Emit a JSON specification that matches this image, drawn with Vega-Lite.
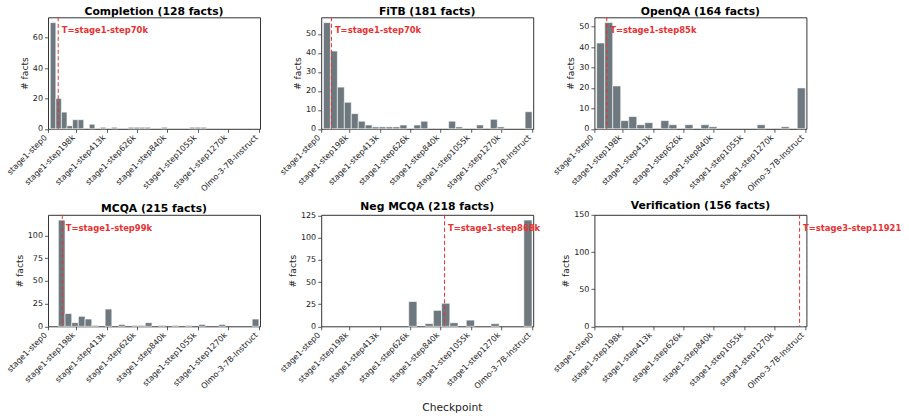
{
  "$schema": "https://vega.github.io/schema/vega-lite/v6.json",
  "padding": {"left": 5, "top": 4.3, "right": 5, "bottom": 5},
  "background": "white",
  "datasets": {
    "bars": [
      {"task": "Completion", "x0": 14, "x1": 53.3, "n": 70},
      {"task": "Completion", "x0": 53.3, "x1": 92.6, "n": 20},
      {"task": "Completion", "x0": 92.6, "x1": 131.9, "n": 11},
      {"task": "Completion", "x0": 131.9, "x1": 171.2, "n": 2},
      {"task": "Completion", "x0": 171.2, "x1": 210.5, "n": 6},
      {"task": "Completion", "x0": 210.5, "x1": 249.8, "n": 6},
      {"task": "Completion", "x0": 289.1, "x1": 328.4, "n": 3},
      {"task": "Completion", "x0": 367.7, "x1": 407.0, "n": 1},
      {"task": "Completion", "x0": 446.3, "x1": 485.6, "n": 1},
      {"task": "Completion", "x0": 564.2, "x1": 603.5, "n": 1},
      {"task": "Completion", "x0": 603.5, "x1": 642.8, "n": 1},
      {"task": "Completion", "x0": 642.8, "x1": 682.1, "n": 1},
      {"task": "Completion", "x0": 682.1, "x1": 721.4, "n": 1},
      {"task": "Completion", "x0": 800.0, "x1": 839.3, "n": 1},
      {"task": "Completion", "x0": 996.5, "x1": 1035.8, "n": 1},
      {"task": "Completion", "x0": 1035.8, "x1": 1075.1, "n": 1},
      {"task": "Completion", "x0": 1075.1, "x1": 1114.4, "n": 1},

      {"task": "FiTB", "x0": 14, "x1": 63.03, "n": 56},
      {"task": "FiTB", "x0": 63.03, "x1": 112.07, "n": 41},
      {"task": "FiTB", "x0": 112.07, "x1": 161.1, "n": 22},
      {"task": "FiTB", "x0": 161.1, "x1": 210.13, "n": 14},
      {"task": "FiTB", "x0": 210.13, "x1": 259.17, "n": 8},
      {"task": "FiTB", "x0": 259.17, "x1": 308.2, "n": 4},
      {"task": "FiTB", "x0": 308.2, "x1": 357.23, "n": 2},
      {"task": "FiTB", "x0": 357.23, "x1": 406.27, "n": 1},
      {"task": "FiTB", "x0": 406.27, "x1": 455.3, "n": 1},
      {"task": "FiTB", "x0": 455.3, "x1": 504.33, "n": 1},
      {"task": "FiTB", "x0": 504.33, "x1": 553.37, "n": 1},
      {"task": "FiTB", "x0": 553.37, "x1": 602.4, "n": 2},
      {"task": "FiTB", "x0": 651.43, "x1": 700.47, "n": 2},
      {"task": "FiTB", "x0": 700.47, "x1": 749.5, "n": 4},
      {"task": "FiTB", "x0": 896.6, "x1": 945.63, "n": 4},
      {"task": "FiTB", "x0": 945.63, "x1": 994.67, "n": 1},
      {"task": "FiTB", "x0": 1092.73, "x1": 1141.77, "n": 2},
      {"task": "FiTB", "x0": 1190.8, "x1": 1239.83, "n": 5},
      {"task": "FiTB", "x0": 1239.83, "x1": 1288.87, "n": 1},
      {"task": "FiTB", "x0": 1435.97, "x1": 1485, "n": 9},

      {"task": "OpenQA", "x0": 14, "x1": 70.58, "n": 42},
      {"task": "OpenQA", "x0": 70.58, "x1": 127.15, "n": 52},
      {"task": "OpenQA", "x0": 127.15, "x1": 183.73, "n": 21},
      {"task": "OpenQA", "x0": 183.73, "x1": 240.31, "n": 4},
      {"task": "OpenQA", "x0": 240.31, "x1": 296.88, "n": 6},
      {"task": "OpenQA", "x0": 296.88, "x1": 353.46, "n": 2},
      {"task": "OpenQA", "x0": 353.46, "x1": 410.04, "n": 3},
      {"task": "OpenQA", "x0": 466.62, "x1": 523.19, "n": 4},
      {"task": "OpenQA", "x0": 523.19, "x1": 579.77, "n": 2},
      {"task": "OpenQA", "x0": 636.35, "x1": 692.92, "n": 2},
      {"task": "OpenQA", "x0": 749.5, "x1": 806.08, "n": 2},
      {"task": "OpenQA", "x0": 806.08, "x1": 862.65, "n": 1},
      {"task": "OpenQA", "x0": 1145.54, "x1": 1202.12, "n": 2},
      {"task": "OpenQA", "x0": 1315.27, "x1": 1371.85, "n": 1},
      {"task": "OpenQA", "x0": 1428.42, "x1": 1485, "n": 20},

      {"task": "MCQA", "x0": 71, "x1": 118.13, "n": 117},
      {"task": "MCQA", "x0": 118.13, "x1": 165.27, "n": 14},
      {"task": "MCQA", "x0": 165.27, "x1": 212.4, "n": 4},
      {"task": "MCQA", "x0": 212.4, "x1": 259.53, "n": 11},
      {"task": "MCQA", "x0": 259.53, "x1": 306.67, "n": 8},
      {"task": "MCQA", "x0": 306.67, "x1": 353.8, "n": 1},
      {"task": "MCQA", "x0": 400.93, "x1": 448.07, "n": 19},
      {"task": "MCQA", "x0": 495.2, "x1": 542.33, "n": 2},
      {"task": "MCQA", "x0": 589.47, "x1": 636.6, "n": 1},
      {"task": "MCQA", "x0": 636.6, "x1": 683.73, "n": 1},
      {"task": "MCQA", "x0": 683.73, "x1": 730.87, "n": 4},
      {"task": "MCQA", "x0": 777.99, "x1": 825.13, "n": 1},
      {"task": "MCQA", "x0": 872.27, "x1": 919.4, "n": 1},
      {"task": "MCQA", "x0": 966.53, "x1": 1013.67, "n": 1},
      {"task": "MCQA", "x0": 1060.8, "x1": 1107.93, "n": 2},
      {"task": "MCQA", "x0": 1202.2, "x1": 1249.33, "n": 2},
      {"task": "MCQA", "x0": 1437.87, "x1": 1485, "n": 8},

      {"task": "Neg MCQA", "x0": 615, "x1": 673, "n": 28},
      {"task": "Neg MCQA", "x0": 731, "x1": 789, "n": 3},
      {"task": "Neg MCQA", "x0": 789, "x1": 847, "n": 18},
      {"task": "Neg MCQA", "x0": 847, "x1": 905, "n": 26},
      {"task": "Neg MCQA", "x0": 905, "x1": 963, "n": 4},
      {"task": "Neg MCQA", "x0": 1021, "x1": 1079, "n": 7},
      {"task": "Neg MCQA", "x0": 1195, "x1": 1253, "n": 3},
      {"task": "Neg MCQA", "x0": 1427, "x1": 1485, "n": 120},

      {"task": "Verification", "x0": 1464.6, "x1": 1465.4, "n": 143}
    ],
    "thr": [
      {"task": "Completion", "t": 70, "label": "T=stage1-step70k"},
      {"task": "FiTB", "t": 70, "label": "T=stage1-step70k"},
      {"task": "OpenQA", "t": 85, "label": "T=stage1-step85k"},
      {"task": "MCQA", "t": 99, "label": "T=stage1-step99k"},
      {"task": "Neg MCQA", "t": 868, "label": "T=stage1-step868k"},
      {"task": "Verification", "t": 1445, "label": "T=stage3-step11921"}
    ]
  },
  "columns": 3,
  "bounds": "flush",
  "spacing": {"row": 85.5, "column": 61.2},
  "concat": [
    {
      "width": 212, "height": 111.5,
      "title": {"text": "Completion (128 facts)"},
      "layer": [
        {"data": {"name": "bars"}, "transform": [{"filter": "datum.task == 'Completion'"}],
         "mark": {"type": "bar", "color": "#6e787f", "stroke": "white", "strokeWidth": 0.6},
         "encoding": {
           "x": {"field": "x0", "type": "quantitative", "scale": {"domain": [-2, 1493], "nice": false, "zero": false},
                 "axis": {"values": [0, 198, 413, 626, 840, 1055, 1270, 1485], "tickCount": 20, "labelOverlap": false, "labelExpr": "datum.value == 0 ? 'stage1-step0' : datum.value == 1485 ? 'Olmo-3-7B-Instruct' : 'stage1-step' + datum.value + 'k'", "title": null}},
           "x2": {"field": "x1"},
           "y": {"field": "n", "type": "quantitative", "scale": {"domain": [0, 73.5], "nice": false},
                 "axis": {"values": [0, 20, 40, 60], "tickCount": 20, "labelOverlap": false, "title": "# facts"}},
           "y2": {"datum": 0}
         }},
        {"data": {"name": "thr"}, "transform": [{"filter": "datum.task == 'Completion'"}],
         "mark": {"type": "rule", "color": "#e63232", "strokeDash": [4, 2.5], "strokeWidth": 1},
         "encoding": {"x": {"field": "t", "type": "quantitative"}}},
        {"data": {"name": "thr"}, "transform": [{"filter": "datum.task == 'Completion'"}],
         "mark": {"type": "text", "align": "left", "baseline": "middle", "dx": 3.5, "fontWeight": "bold", "fontSize": 8.4, "color": "#e63232"},
         "encoding": {"x": {"field": "t", "type": "quantitative"}, "y": {"datum": 64.8}, "text": {"field": "label"}}}
      ]
    },
    {
      "width": 212, "height": 111.5,
      "title": {"text": "FiTB (181 facts)"},
      "layer": [
        {"data": {"name": "bars"}, "transform": [{"filter": "datum.task == 'FiTB'"}],
         "mark": {"type": "bar", "color": "#6e787f", "stroke": "white", "strokeWidth": 0.6},
         "encoding": {
           "x": {"field": "x0", "type": "quantitative", "scale": {"domain": [-2, 1493], "nice": false, "zero": false},
                 "axis": {"values": [0, 198, 413, 626, 840, 1055, 1270, 1485], "tickCount": 20, "labelOverlap": false, "labelExpr": "datum.value == 0 ? 'stage1-step0' : datum.value == 1485 ? 'Olmo-3-7B-Instruct' : 'stage1-step' + datum.value + 'k'", "title": null}},
           "x2": {"field": "x1"},
           "y": {"field": "n", "type": "quantitative", "scale": {"domain": [0, 58.8], "nice": false},
                 "axis": {"values": [0, 10, 20, 30, 40, 50], "tickCount": 20, "labelOverlap": false, "title": "# facts"}},
           "y2": {"datum": 0}
         }},
        {"data": {"name": "thr"}, "transform": [{"filter": "datum.task == 'FiTB'"}],
         "mark": {"type": "rule", "color": "#e63232", "strokeDash": [4, 2.5], "strokeWidth": 1},
         "encoding": {"x": {"field": "t", "type": "quantitative"}}},
        {"data": {"name": "thr"}, "transform": [{"filter": "datum.task == 'FiTB'"}],
         "mark": {"type": "text", "align": "left", "baseline": "middle", "dx": 3.5, "fontWeight": "bold", "fontSize": 8.4, "color": "#e63232"},
         "encoding": {"x": {"field": "t", "type": "quantitative"}, "y": {"datum": 51.9}, "text": {"field": "label"}}}
      ]
    },
    {
      "width": 212, "height": 111.5,
      "title": {"text": "OpenQA (164 facts)"},
      "layer": [
        {"data": {"name": "bars"}, "transform": [{"filter": "datum.task == 'OpenQA'"}],
         "mark": {"type": "bar", "color": "#6e787f", "stroke": "white", "strokeWidth": 0.6},
         "encoding": {
           "x": {"field": "x0", "type": "quantitative", "scale": {"domain": [-2, 1493], "nice": false, "zero": false},
                 "axis": {"values": [0, 198, 413, 626, 840, 1055, 1270, 1485], "tickCount": 20, "labelOverlap": false, "labelExpr": "datum.value == 0 ? 'stage1-step0' : datum.value == 1485 ? 'Olmo-3-7B-Instruct' : 'stage1-step' + datum.value + 'k'", "title": null}},
           "x2": {"field": "x1"},
           "y": {"field": "n", "type": "quantitative", "scale": {"domain": [0, 54.6], "nice": false},
                 "axis": {"values": [0, 10, 20, 30, 40, 50], "tickCount": 20, "labelOverlap": false, "title": "# facts"}},
           "y2": {"datum": 0}
         }},
        {"data": {"name": "thr"}, "transform": [{"filter": "datum.task == 'OpenQA'"}],
         "mark": {"type": "rule", "color": "#e63232", "strokeDash": [4, 2.5], "strokeWidth": 1},
         "encoding": {"x": {"field": "t", "type": "quantitative"}}},
        {"data": {"name": "thr"}, "transform": [{"filter": "datum.task == 'OpenQA'"}],
         "mark": {"type": "text", "align": "left", "baseline": "middle", "dx": 3.5, "fontWeight": "bold", "fontSize": 8.4, "color": "#e63232"},
         "encoding": {"x": {"field": "t", "type": "quantitative"}, "y": {"datum": 48.2}, "text": {"field": "label"}}}
      ]
    },
    {
      "width": 212, "height": 111.5,
      "title": {"text": "MCQA (215 facts)"},
      "layer": [
        {"data": {"name": "bars"}, "transform": [{"filter": "datum.task == 'MCQA'"}],
         "mark": {"type": "bar", "color": "#6e787f", "stroke": "white", "strokeWidth": 0.6},
         "encoding": {
           "x": {"field": "x0", "type": "quantitative", "scale": {"domain": [-2, 1493], "nice": false, "zero": false},
                 "axis": {"values": [0, 198, 413, 626, 840, 1055, 1270, 1485], "tickCount": 20, "labelOverlap": false, "labelExpr": "datum.value == 0 ? 'stage1-step0' : datum.value == 1485 ? 'Olmo-3-7B-Instruct' : 'stage1-step' + datum.value + 'k'", "title": null}},
           "x2": {"field": "x1"},
           "y": {"field": "n", "type": "quantitative", "scale": {"domain": [0, 122.85], "nice": false},
                 "axis": {"values": [0, 25, 50, 75, 100], "tickCount": 20, "labelOverlap": false, "title": "# facts"}},
           "y2": {"datum": 0}
         }},
        {"data": {"name": "thr"}, "transform": [{"filter": "datum.task == 'MCQA'"}],
         "mark": {"type": "rule", "color": "#e63232", "strokeDash": [4, 2.5], "strokeWidth": 1},
         "encoding": {"x": {"field": "t", "type": "quantitative"}}},
        {"data": {"name": "thr"}, "transform": [{"filter": "datum.task == 'MCQA'"}],
         "mark": {"type": "text", "align": "left", "baseline": "middle", "dx": 3.5, "fontWeight": "bold", "fontSize": 8.4, "color": "#e63232"},
         "encoding": {"x": {"field": "t", "type": "quantitative"}, "y": {"datum": 108.8}, "text": {"field": "label"}}}
      ]
    },
    {
      "width": 212, "height": 111.5,
      "title": {"text": "Neg MCQA (218 facts)"},
      "layer": [
        {"data": {"name": "bars"}, "transform": [{"filter": "datum.task == 'Neg MCQA'"}],
         "mark": {"type": "bar", "color": "#6e787f", "stroke": "white", "strokeWidth": 0.6},
         "encoding": {
           "x": {"field": "x0", "type": "quantitative", "scale": {"domain": [-2, 1493], "nice": false, "zero": false},
                 "axis": {"values": [0, 198, 413, 626, 840, 1055, 1270, 1485], "tickCount": 20, "labelOverlap": false, "labelExpr": "datum.value == 0 ? 'stage1-step0' : datum.value == 1485 ? 'Olmo-3-7B-Instruct' : 'stage1-step' + datum.value + 'k'", "title": "Checkpoint", "titleX": 130.6, "titleY": 81, "titleBaseline": "middle", "titleFontSize": 10.7}},
           "x2": {"field": "x1"},
           "y": {"field": "n", "type": "quantitative", "scale": {"domain": [0, 126], "nice": false},
                 "axis": {"values": [0, 25, 50, 75, 100, 125], "tickCount": 20, "labelOverlap": false, "title": "# facts"}},
           "y2": {"datum": 0}
         }},
        {"data": {"name": "thr"}, "transform": [{"filter": "datum.task == 'Neg MCQA'"}],
         "mark": {"type": "rule", "color": "#e63232", "strokeDash": [4, 2.5], "strokeWidth": 1},
         "encoding": {"x": {"field": "t", "type": "quantitative"}}},
        {"data": {"name": "thr"}, "transform": [{"filter": "datum.task == 'Neg MCQA'"}],
         "mark": {"type": "text", "align": "left", "baseline": "middle", "dx": 3.5, "fontWeight": "bold", "fontSize": 8.4, "color": "#e63232"},
         "encoding": {"x": {"field": "t", "type": "quantitative"}, "y": {"datum": 111.6}, "text": {"field": "label"}}}
      ]
    },
    {
      "width": 212, "height": 111.5,
      "title": {"text": "Verification (156 facts)"},
      "layer": [
        {"data": {"name": "bars"}, "transform": [{"filter": "datum.task == 'Verification'"}],
         "mark": {"type": "bar", "color": "#6e787f", "stroke": "white", "strokeWidth": 0.6},
         "encoding": {
           "x": {"field": "x0", "type": "quantitative", "scale": {"domain": [-2, 1493], "nice": false, "zero": false},
                 "axis": {"values": [0, 198, 413, 626, 840, 1055, 1270, 1485], "tickCount": 20, "labelOverlap": false, "labelExpr": "datum.value == 0 ? 'stage1-step0' : datum.value == 1485 ? 'Olmo-3-7B-Instruct' : 'stage1-step' + datum.value + 'k'", "title": null}},
           "x2": {"field": "x1"},
           "y": {"field": "n", "type": "quantitative", "scale": {"domain": [0, 150.15], "nice": false},
                 "axis": {"values": [0, 50, 100, 150], "tickCount": 20, "labelOverlap": false, "title": "# facts"}},
           "y2": {"datum": 0}
         }},
        {"data": {"name": "thr"}, "transform": [{"filter": "datum.task == 'Verification'"}],
         "mark": {"type": "rule", "color": "#e63232", "strokeDash": [4, 2.5], "strokeWidth": 1},
         "encoding": {"x": {"field": "t", "type": "quantitative"}}},
        {"data": {"name": "thr"}, "transform": [{"filter": "datum.task == 'Verification'"}],
         "mark": {"type": "text", "align": "left", "baseline": "middle", "dx": 3.5, "fontWeight": "bold", "fontSize": 8.4, "color": "#e63232"},
         "encoding": {"x": {"field": "t", "type": "quantitative"}, "y": {"datum": 133}, "text": {"field": "label"}}}
      ]
    }
  ],
  "config": {
    "font": "DejaVu Sans",
    "view": {"stroke": "#333", "strokeWidth": 1},
    "title": {"font": "DejaVu Sans", "fontSize": 10.8, "fontWeight": "bold", "color": "#000", "frame": "group", "anchor": "middle", "baseline": "alphabetic", "offset": 0.3},
    "axis": {
      "labelFont": "DejaVu Sans", "labelFontSize": 8, "labelColor": "#222", "labelOverlap": false,
      "tickColor": "#333", "tickSize": 3.5, "tickWidth": 0.8,
      "domain": false, "grid": false,
      "titleFont": "DejaVu Sans", "titleFontWeight": "normal", "titleFontSize": 9.2, "titleColor": "#222"
    },
    "axisX": {"labelAngle": -45, "labelAlign": "right", "labelBaseline": "top", "labelPadding": 1, "labelOffset": -5.5, "labelFlush": false, "labelBound": false},
    "axisY": {"labelPadding": 2, "titlePadding": 3}
  }
}
